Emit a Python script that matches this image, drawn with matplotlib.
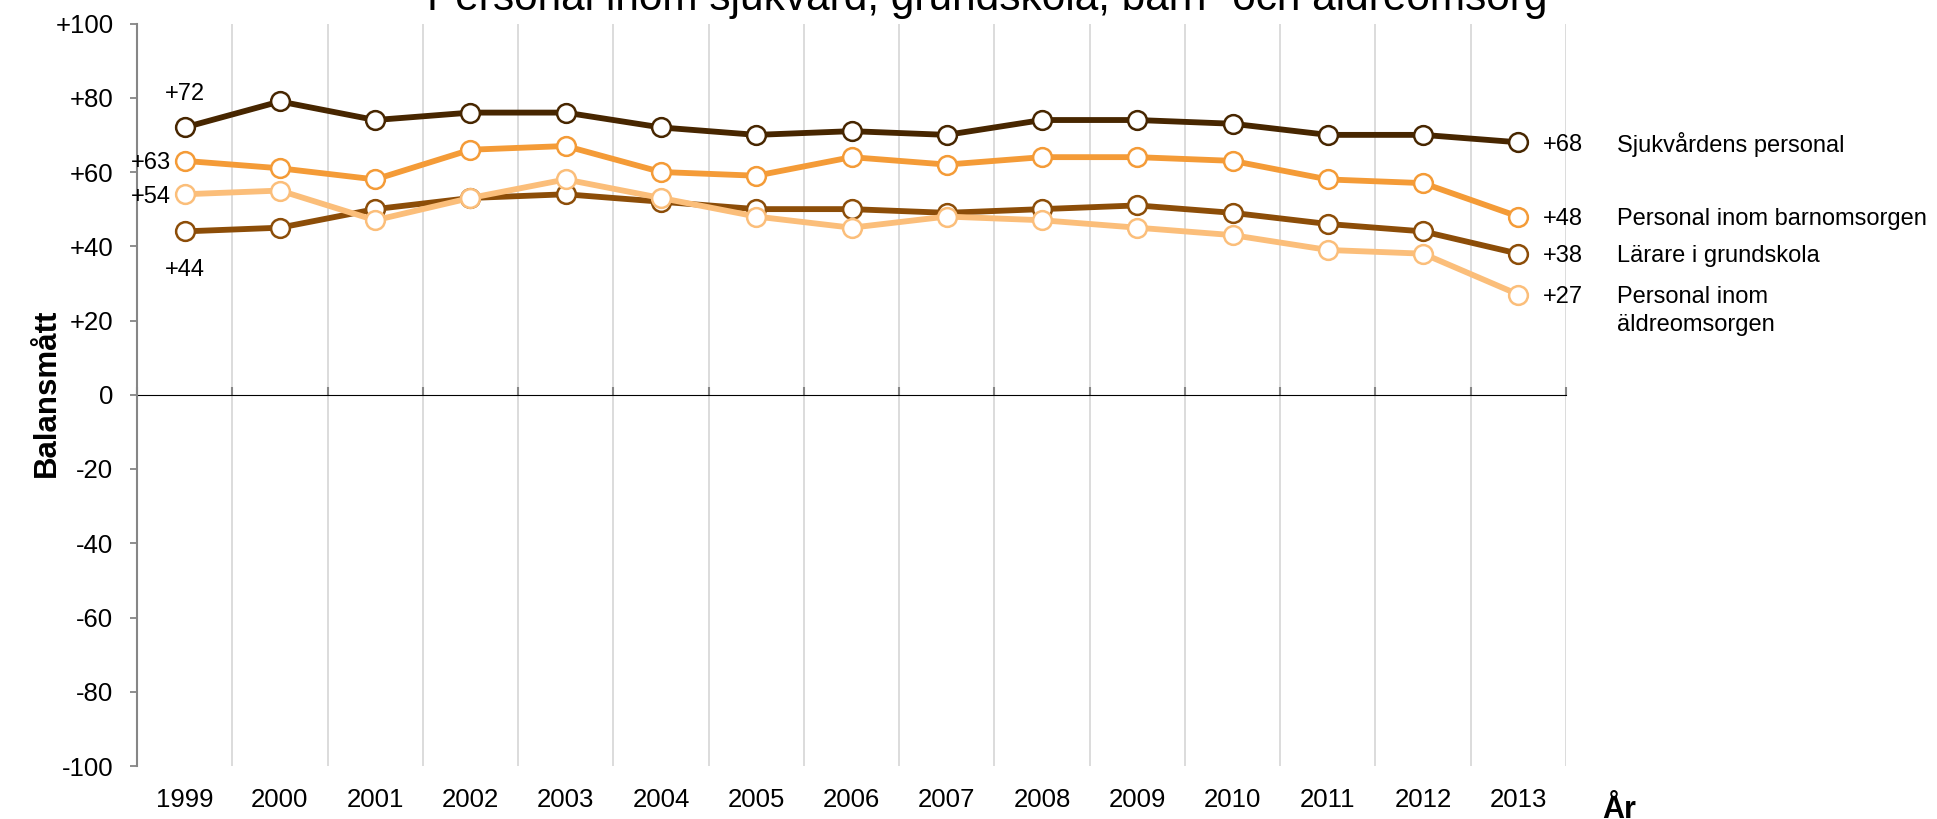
import matplotlib
matplotlib.use("Agg")
import matplotlib.pyplot as plt

plt.rcParams['font.family'] = ['Liberation Sans', 'DejaVu Sans']

years = ["1999", "2000", "2001", "2002", "2003", "2004", "2005", "2006",
         "2007", "2008", "2009", "2010", "2011", "2012", "2013"]
sjukvard = [72, 79, 74, 76, 76, 72, 70, 71, 70, 74, 74, 73, 70, 70, 68]
barnomsorg = [63, 61, 58, 66, 67, 60, 59, 64, 62, 64, 64, 63, 58, 57, 48]
larare = [44, 45, 50, 53, 54, 52, 50, 50, 49, 50, 51, 49, 46, 44, 38]
aldreomsorg = [54, 55, 47, 53, 58, 53, 48, 45, 48, 47, 45, 43, 39, 38, 27]

series_names = ["Sjukvårdens personal", "Personal inom barnomsorgen",
                "Lärare i grundskola", "Personal inom\näldreomsorgen"]
series_values = [sjukvard, barnomsorg, larare, aldreomsorg]
series_colors = ["#472600", "#F49B37", "#8C4D08", "#FBBE7A"]
yticks = [-100, -80, -60, -40, -20, 0, 20, 40, 60, 80, 100]
ytick_labels = ["-100", "-80", "-60", "-40", "-20", "0", "+20", "+40", "+60", "+80", "+100"]

title = "Personal inom sjukvård, grundskola, barn- och äldreomsorg"

W, H = 1937, 819
fig = plt.figure(figsize=(W / 100, H / 100), dpi=100)
ax = fig.add_axes([137 / W, 1 - 766 / H, (1566 - 137) / W, (766 - 23.5) / H])

n = len(years)
xs = list(range(n))
ax.set_xlim(-0.5, n - 0.5)
ax.set_ylim(-100, 100)

# vertical gridlines at category boundaries
for b in range(n):
    ax.axvline(b + 0.5, color="#D9D9D9", lw=1.3, zorder=0)

for vals, col in zip(series_values, series_colors):
    ax.plot(xs, vals, color=col, lw=4.2, marker="o", ms=13.5,
            mfc="white", mec=col, mew=1.8, zorder=3, solid_joinstyle="round")

# spines
for s in ["top", "right", "bottom"]:
    ax.spines[s].set_visible(False)
ax.spines["left"].set_color("#868686")
ax.spines["left"].set_linewidth(1.5)

ax.set_yticks(yticks)
ax.set_yticklabels(ytick_labels)
ax.tick_params(axis="y", direction="out", length=5, width=1.3, color="#868686",
               labelsize=18.5, pad=12)
ax.set_xticks(xs)
ax.set_xticklabels(years)
ax.tick_params(axis="x", length=0, labelsize=18.5, pad=16)

# zero axis with boundary ticks
sec = ax.secondary_xaxis(0.5)
sec.set_xticks([b - 0.5 for b in range(n + 1)])
sec.set_xticklabels([])
sec.tick_params(direction="out", length=6, width=1.5, color="#868686")
sec.spines["bottom"].set_color("#868686")
sec.spines["bottom"].set_linewidth(2)

# start labels
ax.annotate("+%d" % sjukvard[0], (0, sjukvard[0]), xytext=(0, 26), textcoords="offset points",
            ha="center", va="center_baseline", fontsize=17)
ax.annotate("+%d" % barnomsorg[0], (0, barnomsorg[0]), xytext=(-10, 0), textcoords="offset points",
            ha="right", va="center_baseline", fontsize=17)
ax.annotate("+%d" % aldreomsorg[0], (0, aldreomsorg[0]), xytext=(-10, 0), textcoords="offset points",
            ha="right", va="center_baseline", fontsize=17)
ax.annotate("+%d" % larare[0], (0, larare[0]), xytext=(0, -26), textcoords="offset points",
            ha="center", va="center_baseline", fontsize=17)

# end labels
for vals, name in zip(series_values, series_names):
    ax.annotate("+%d" % vals[-1], (n - 1, vals[-1]), xytext=(18, 0), textcoords="offset points",
                ha="left", va="center_baseline", fontsize=17, annotation_clip=False)
    for i, line in enumerate(name.split("\n")):
        ax.annotate(line, (n - 1, vals[-1]), xytext=(71, -20 * i), textcoords="offset points",
                    ha="left", va="center_baseline", fontsize=17, annotation_clip=False)

fig.text(987 / W, 1 - 10 / H, title, ha="center", va="baseline", fontsize=30.5)
fig.text(47 / W, 1 - 393 / H, "Balansmått", rotation=90, ha="center", va="center",
         fontsize=22.5, fontweight="bold")
fig.text(1602 / W, 1 - 818 / H, "År", ha="left", va="baseline", fontsize=22, fontweight="bold")

fig.savefig("out.png", dpi=100)
